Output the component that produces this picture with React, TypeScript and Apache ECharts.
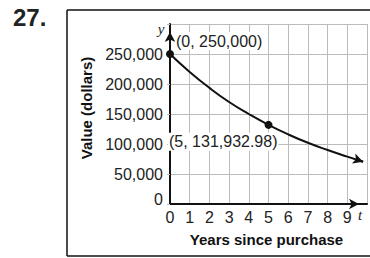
import React, { useEffect, useRef } from "react";
import * as echarts from "echarts";

// Curve values (years since purchase -> value in dollars)
const years = [0, 1, 2, 3, 4, 5, 6, 7, 8, 9, 9.8];
const values = [250000, 220000, 193500, 170000, 150000, 131933, 116000, 102000, 90000, 79000, 70500];

// Labelled points
const pointX = [0, 5];
const pointY = [250000, 131932.98];
const pointLabels = ["(0, 250,000)", "(5, 131,932.98)"];

// Arrow segment at the end of the curve
const arrowFrom = [9.5, 73800];
const arrowTo = [9.8, 70500];

const xTitle = "Years since purchase";
const yTitle = "Value (dollars)";
const problemNo = "27.";

const FONT = "'Liberation Sans', Arial, Helvetica, sans-serif";
const GRIDC = "#bcbcbc";

export default function App() {
  const ref = useRef<HTMLDivElement>(null);
  useEffect(() => {
    if (!ref.current) return;
    const chart = echarts.init(ref.current, undefined, { renderer: "svg" });
    const fmt = (v: number) => {
      if (v === 0) return "{z|0}";
      if (v >= 300000) return "";
      return v.toLocaleString("en-US");
    };
    chart.setOption({
      animation: false,
      backgroundColor: "#fff",
      textStyle: { fontFamily: FONT },
      grid: { left: 170, top: 24, width: 200, height: 180 },
      xAxis: {
        type: "value",
        min: 0,
        max: 10,
        interval: 1,
        name: xTitle,
        nameLocation: "middle",
        nameGap: 28,
        nameTextStyle: { fontSize: 15, fontWeight: "bold", color: "#111", fontFamily: FONT, padding: [0, 4, 0, 0] },
        axisLine: {
          show: true,
          onZero: false,
          symbol: ["none", "arrow"],
          symbolSize: [8, 10],
          symbolOffset: [0, -8],
          lineStyle: { color: "#111", width: 2 },
        },
        axisTick: { show: false },
        axisLabel: {
          fontSize: 16,
          color: "#222",
          margin: 5,
          fontFamily: FONT,
          formatter: (v: number) => (v <= 9 ? String(v) : ""),
        },
        splitLine: { show: true, lineStyle: { color: GRIDC, width: 1 } },
      },
      yAxis: {
        type: "value",
        min: 0,
        max: 300000,
        interval: 50000,
        name: yTitle,
        nameLocation: "middle",
        nameRotate: 90,
        nameGap: 74,
        nameTextStyle: { fontSize: 15, fontWeight: "bold", color: "#111", fontFamily: FONT, padding: [0, 0, 0, 12] },
        axisLine: {
          show: true,
          onZero: false,
          symbol: ["none", "arrow"],
          symbolSize: [8, 10],
          symbolOffset: [0, -8],
          lineStyle: { color: "#111", width: 2 },
        },
        axisTick: { show: true, length: 3, lineStyle: { color: GRIDC } },
        axisLabel: {
          fontSize: 16,
          color: "#222",
          margin: 7,
          fontFamily: FONT,
          formatter: fmt,
          rich: { z: { fontSize: 16, color: "#222", padding: [0, 0, 10, 0], fontFamily: FONT } },
        },
        splitLine: { show: true, lineStyle: { color: GRIDC, width: 1 } },
      },
      series: [
        {
          type: "line",
          smooth: true,
          showSymbol: false,
          data: years.map((x, i) => [x, values[i]]),
          lineStyle: { color: "#111", width: 2 },
          z: 3,
          markLine: {
            silent: true,
            symbol: ["none", "arrow"],
            symbolSize: [8, 10],
            label: { show: false },
            lineStyle: { color: "#111", width: 2, type: "solid" },
            data: [[{ coord: arrowFrom }, { coord: arrowTo }]],
          },
        },
        {
          type: "scatter",
          symbol: "circle",
          symbolSize: 8,
          itemStyle: { color: "#111", opacity: 1 },
          z: 5,
          data: [
            {
              value: [pointX[0], pointY[0]],
              label: {
                show: true,
                formatter: pointLabels[0],
                position: "right",
                distance: 1,
                offset: [0, -13],
              },
            },
            {
              value: [pointX[1], pointY[1]],
              label: {
                show: true,
                formatter: pointLabels[1],
                position: "left",
                distance: 0,
                offset: [14, 17],
              },
            },
          ],
          label: {
            fontSize: 16,
            color: "#222",
            fontFamily: FONT,
            backgroundColor: "#fff",
            padding: [1, 1],
          },
        },
      ],
    });
    const tPos = chart.convertToPixel({ gridIndex: 0 }, [9.65, 0]) as number[];
    const yPos = chart.convertToPixel({ gridIndex: 0 }, [0, 292000]) as number[];
    const frame = { stroke: "#111", lineWidth: 1.5 };
    chart.setOption({
      graphic: [
        { type: "line", silent: true, shape: { x1: 67, y1: 10, x2: 370, y2: 10 }, style: frame },
        { type: "line", silent: true, shape: { x1: 67, y1: 10, x2: 67, y2: 256 }, style: frame },
        { type: "line", silent: true, shape: { x1: 67, y1: 256, x2: 370, y2: 256 }, style: frame },
        {
          type: "text",
          x: 13,
          y: 17,
          style: {
            text: problemNo,
            font: "bold 24px " + FONT,
            fill: "#222",
            align: "left",
            verticalAlign: "middle",
          },
        },
        {
          type: "text",
          x: tPos[0],
          y: tPos[1] + 11,
          style: {
            text: "t",
            font: "italic 15px 'Liberation Serif', 'Times New Roman', serif",
            fill: "#222",
            align: "center",
            verticalAlign: "middle",
          },
        },
        {
          type: "text",
          x: yPos[0] - 9,
          y: yPos[1],
          style: {
            text: "y",
            font: "italic 15px 'Liberation Serif', 'Times New Roman', serif",
            fill: "#222",
            align: "center",
            verticalAlign: "middle",
          },
        },
      ],
    });
    return () => chart.dispose();
  }, []);
  return (
    <div
      ref={ref}
      style={{ position: "fixed", left: 0, top: 0, width: 370, height: 258 }}
    />
  );
}
